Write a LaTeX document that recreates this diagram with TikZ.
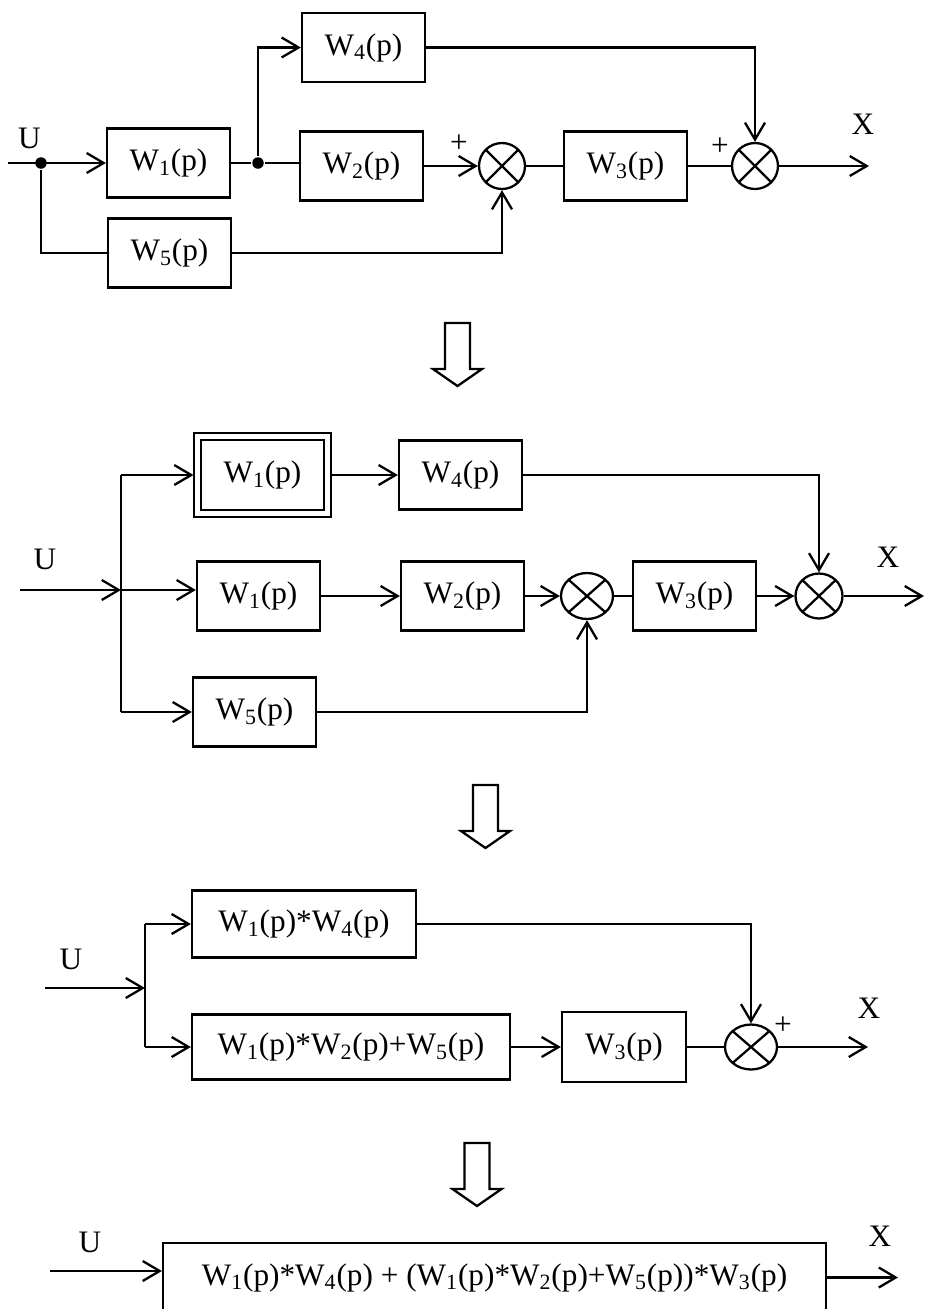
\documentclass[tikz,border=0pt]{standalone}
\usepackage{fontspec}
\setmainfont{Liberation Serif}
\usetikzlibrary{arrows.meta,shapes.geometric}

\newcommand{\Wp}[1]{W\textsubscript{#1}(p)}
\newcommand{\hollowdown}[2]{%
  \draw[shift={(#1,#2)}] (-12.5,0) -- (12.5,0) -- (12.5,46) -- (24.5,46) -- (0,63) -- (-24.5,46) -- (-12.5,46) -- cycle;}

\begin{document}
\begin{tikzpicture}[x=0.02cm,y=-0.02cm,line width=1.3pt,
  >={Straight Barb[length=3.4mm,width=4mm]},
  font=\fontsize{17.8}{20}\selectfont,
  blk/.style={draw,inner sep=0pt,minimum width=2.46cm,minimum height=1.38cm},
  dblk/.style={blk,double,double distance=2.7pt,minimum width=2.6cm,minimum height=1.53cm,outer sep=2.3pt},
  summ/.style={draw,ellipse,inner sep=0pt,minimum width=0.92cm,minimum height=0.92cm,
    path picture={\draw (path picture bounding box.north west) -- (path picture bounding box.south east)
      (path picture bounding box.north east) -- (path picture bounding box.south west);}},
  dotnode/.style={circle,fill,inner sep=0pt,minimum size=0.23cm}]

\useasboundingbox (0,0) rectangle (926,1309);

\node[blk] (w1a) at (168.5,163) {\Wp{1}};
\node[blk] (w4a) at (363.5,47.5) {\Wp{4}};
\node[blk] (w2a) at (361.5,166) {\Wp{2}};
\node[blk] (w5a) at (169.5,253) {\Wp{5}};
\node[summ] (s1a) at (502,166) {};
\node[blk] (w3a) at (625.5,166) {\Wp{3}};
\node[summ] (s2a) at (755,166) {};
\coordinate (ina) at (8,163);
\coordinate (outa) at (869,166);
\node[dotnode] (da1) at (41,163) {};
\node[dotnode] (da2) at (258,163) {};
\node (ua) at (29.5,138.5) {U};
\node (xa) at (863,124.5) {X};
\node (pa1) at (459,144) {+};
\node (pa2) at (720,147) {+};

\draw[->] (ina) -- (w1a.west);
\draw (w1a.east) -- (da2) -- (w2a.west |- da2);
\draw[->] (da2) |- (w4a.west);
\draw (da1) |- (w5a.west);
\draw[->] (w2a.east) -- (s1a.west);
\draw[->] (w5a.east) -| (s1a.south);
\draw (s1a.east) -- (w3a.west);
\draw (w3a.east) -- (s2a.west);
\draw[->] (w4a.east) -| (s2a.north);
\draw[->] (s2a.east) -- (outa);

\hollowdown{457.5}{323}

\node[dblk] (w1d) at (262.5,475) {\Wp{1}};
\node[blk] (w4b) at (460.5,475) {\Wp{4}};
\node[blk] (w1b) at (258.5,596) {\Wp{1}};
\node[blk] (w2b) at (462.5,596) {\Wp{2}};
\node[blk] (w5b) at (254.5,712) {\Wp{5}};
\node[summ,minimum width=1.04cm] (s1b) at (587,596) {};
\node[blk] (w3b) at (694.5,596) {\Wp{3}};
\node[summ,minimum width=0.94cm,minimum height=0.9cm] (s2b) at (819,596) {};
\coordinate (inb) at (20,590);
\coordinate (bt) at (121,475);
\coordinate (bm) at (121,590);
\coordinate (bb) at (121,712);
\coordinate (outb) at (924,596);
\node (ub) at (45,559.5) {U};
\node (xb) at (888,557.5) {X};

\draw[->] (inb) -- (bm);
\draw (bt) -- (bb);
\draw[->] (bt) -- (w1d.west);
\draw[->] (bm) -- (w1b.west |- bm);
\draw[->] (bb) -- (w5b.west);
\draw[->] (w1d.east) -- (w4b.west);
\draw[->] (w1b.east) -- (w2b.west);
\draw[->] (w2b.east) -- (s1b.west);
\draw[->] (w5b.east) -| (s1b.south);
\draw (s1b.east) -- (w3b.west);
\draw[->] (w3b.east) -- (s2b.west);
\draw[->] (w4b.east) -| (s2b.north);
\draw[->] (s2b.east) -- (outb);

\hollowdown{485.5}{785}

\node[blk,minimum width=4.48cm,minimum height=1.34cm] (t3) at (304,924) {\Wp{1}*\Wp{4}};
\node[blk,minimum width=6.36cm,minimum height=1.3cm] (b3) at (351,1047) {\Wp{1}*\Wp{2}+\Wp{5}};
\node[blk,minimum width=2.48cm,minimum height=1.4cm] (w3c) at (624,1047) {\Wp{3}};
\node[summ,minimum width=1.04cm,minimum height=0.9cm] (s3) at (751,1047) {};
\coordinate (inc) at (45,988);
\coordinate (ct) at (145,924);
\coordinate (cm) at (145,988);
\coordinate (cb) at (145,1047);
\coordinate (outc) at (868,1047);
\node (uc) at (71,959) {U};
\node (xc) at (869,1008) {X};
\node (pc) at (783,1026) {+};

\draw[->] (inc) -- (cm);
\draw (ct) -- (cb);
\draw[->] (ct) -- (t3.west);
\draw[->] (cb) -- (b3.west);
\draw[->] (b3.east) -- (w3c.west);
\draw (w3c.east) -- (s3.west);
\draw[->] (t3.east) -| (s3.north);
\draw[->] (s3.east) -- (outc);

\hollowdown{477}{1143}

\node[blk,minimum width=13.26cm] (fin) at (494.5,1277.5) {\Wp{1}*\Wp{4} + (\Wp{1}*\Wp{2}+\Wp{5})*\Wp{3}};
\coordinate (ind) at (50,1271);
\coordinate (outd) at (898,1277.5);
\node (ud) at (90,1242.5) {U};
\node (xd) at (880,1236) {X};

\draw[->] (ind) -- (fin.west |- ind);
\draw[->] (fin.east) -- (outd);

\end{tikzpicture}
\end{document}
